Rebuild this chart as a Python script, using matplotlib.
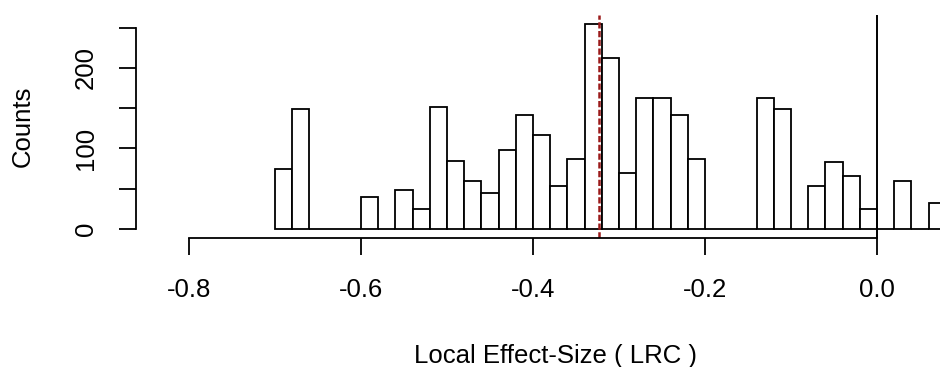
# Histogram of local effect-size (LRC), R base-graphics look
import numpy as np
import matplotlib.pyplot as plt

plt.rcParams['font.family'] = ['Liberation Sans', 'DejaVu Sans']

# bins of width 0.02, left edges from -0.70
bin_start = -0.70
bin_width = 0.02
counts = [74, 149, 0, 0, 0, 40, 0, 49, 25, 152,
          85, 60, 45, 98, 142, 117, 53, 87, 255, 212,
          69, 163, 163, 142, 87, 0, 0, 0, 163, 149,
          0, 53, 83, 66, 25, 0, 60, 0, 32]
mean_lrc = -0.323          # red dashed line
xticks = [-0.8, -0.6, -0.4, -0.2, 0.0]
xticklabels = ['-0.8', '-0.6', '-0.4', '-0.2', '0.0']
yticks = [0, 50, 100, 150, 200, 250]
yticklabels = ['0', '', '100', '', '200', '']

W, H = 940, 367
fig = plt.figure(figsize=(W / 100, H / 100), dpi=100)
# plot region runs past the right edge of the image (cropped R plot)
ax = fig.add_axes([136 / W, (H - 238) / H, (976 - 136) / W, (238 - 15) / H])

lefts = bin_start + bin_width * np.arange(len(counts))
ax.bar(lefts, counts, width=bin_width, align='edge',
       facecolor='white', edgecolor='black', linewidth=1.3)

ax.axvline(0.0, color='black', linewidth=1.4)
ax.axvline(mean_lrc, color='#9b1b1b', linewidth=1.8, linestyle=(0, (2.5, 1)))

ax.set_xlim(-0.8616, 0.1151)
ax.set_ylim(-11.2, 265.8)

for s in ['top', 'right']:
    ax.spines[s].set_visible(False)
ax.spines['bottom'].set_bounds(-0.8, 0.0)
ax.spines['left'].set_bounds(0, 250)
ax.spines['bottom'].set_linewidth(1.3)
ax.spines['left'].set_linewidth(1.3)

ax.set_xticks(xticks)
ax.set_xticklabels(xticklabels)
ax.set_yticks(yticks)
ax.set_yticklabels(yticklabels, rotation=90, va='center')
ax.tick_params(axis='both', direction='out', length=12.2, width=1.3,
               labelsize=18.5, colors='black')
ax.tick_params(axis='x', pad=16.5)
ax.tick_params(axis='y', pad=15)

fig.text(556 / W, (H - 363) / H, 'Local Effect-Size ( LRC )',
         ha='center', va='baseline', fontsize=18.5)
fig.text(23 / W, (H - 126.5) / H, 'Counts', rotation=90,
         ha='center', va='center', fontsize=18.5)

fig.savefig('out.png', dpi=100)
